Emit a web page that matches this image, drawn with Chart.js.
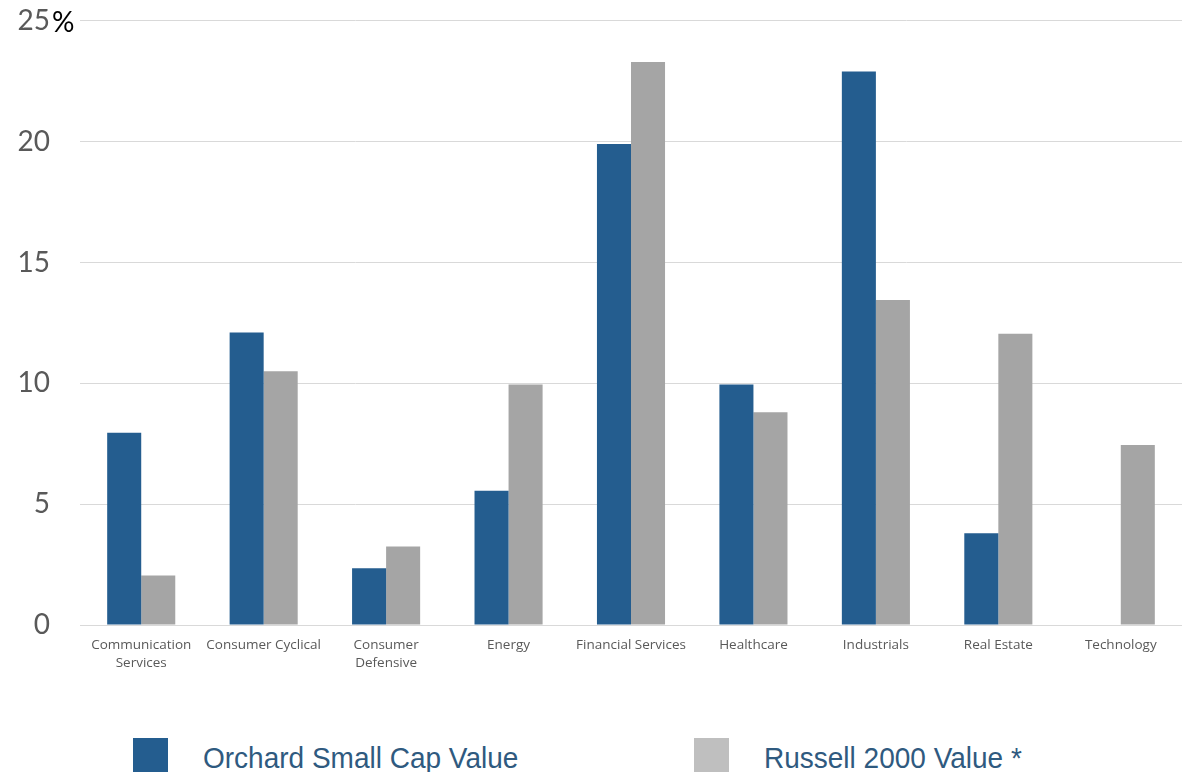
<!DOCTYPE html>
<html>
<head>
<meta charset="utf-8">
<script src="https://cdn.jsdelivr.net/npm/chart.js@4/dist/chart.umd.min.js"></script>
<style>
  html, body { margin: 0; padding: 0; background: #ffffff; }
  #wrap { position: relative; width: 1182px; height: 772px; overflow: hidden; }
  #chart { position: absolute; left: 0; top: -26px; }
  .leg { position: absolute; top: 738px; height: 36px;
         font-family: "Liberation Sans", Arial, sans-serif; font-size: 28px; color: #2f5a7f; }
  .leg i { position: absolute; left: 0; top: 0; width: 35px; height: 36px; }
  .leg span { position: absolute; left: 70px; top: 2px; white-space: nowrap; line-height: 36px;
              transform: scaleY(1.08); transform-origin: left center; }
</style>
</head>
<body>
<div id="wrap">
  <canvas id="chart" width="1182" height="726"></canvas>
  <div class="leg" style="left:133px"><i style="background:#245d8f"></i><span id="l0"></span></div>
  <div class="leg" style="left:694px"><i style="background:#bfbfbf"></i><span id="l1"></span></div>
</div>
<script>
// Sector weights (%)
const sectors = [
  ["Communication", "Services"],
  "Consumer Cyclical",
  ["Consumer", "Defensive"],
  "Energy",
  "Financial Services",
  "Healthcare",
  "Industrials",
  "Real Estate",
  "Technology"
];
const seriesNames = ["Orchard Small Cap Value", "Russell 2000 Value *"];
const orchard = [7.95, 12.1, 2.35, 5.55, 19.9, 9.95, 22.9, 3.8, 0];
const russell = [2.05, 10.5, 3.25, 9.95, 23.3, 8.8, 13.45, 12.05, 7.45];
const yTicks = [0, 5, 10, 15, 20, 25];

document.getElementById('l0').textContent = seriesNames[0];
document.getElementById('l1').textContent = seriesNames[1];

// Draws the "%" unit right after the top tick label
const percentUnit = {
  id: 'percentUnit',
  afterDraw(chart) {
    const y = chart.scales.y;
    const ctx = chart.ctx;
    ctx.save();
    ctx.font = '28px Lato, "Open Sans", sans-serif';
    ctx.fillStyle = '#000000';
    ctx.textAlign = 'left';
    ctx.textBaseline = 'middle';
    ctx.fillText('%', 52, y.getPixelForValue(yTicks[yTicks.length - 1]) + 2);
    ctx.restore();
  }
};

new Chart(document.getElementById('chart'), {
  type: 'bar',
  data: {
    labels: sectors,
    datasets: [
      { label: seriesNames[0], data: orchard, backgroundColor: '#245d8f' },
      { label: seriesNames[1], data: russell, backgroundColor: '#a5a5a5' }
    ]
  },
  options: {
    responsive: false,
    animation: false,
    datasets: { bar: { barPercentage: 1.0, categoryPercentage: 0.556 } },
    layout: { padding: 0 },
    plugins: { legend: { display: false }, tooltip: { enabled: false } },
    scales: {
      x: {
        grid: { display: false, drawTicks: false },
        border: { display: true, color: '#d9d9d9', width: 1 },
        ticks: {
          color: '#595959',
          font: { family: '"Open Sans", Lato, sans-serif', size: 13.5, lineHeight: 1.35 },
          maxRotation: 0, autoSkip: false, padding: 11
        },
        afterFit(scale) { scale.height = 75; }
      },
      y: {
        min: 0, max: 25,
        afterBuildTicks(scale) { scale.ticks = yTicks.map(v => ({ value: v })); },
        grid: { color: '#d9d9d9', lineWidth: 1, drawTicks: false },
        border: { display: false },
        ticks: {
          color: '#595959',
          font: { family: 'Lato, "Open Sans", sans-serif', size: 28 },
          padding: 30
        },
        afterFit(scale) { scale.width = 80; }
      }
    }
  },
  plugins: [percentUnit]
});
</script>
</body>
</html>
